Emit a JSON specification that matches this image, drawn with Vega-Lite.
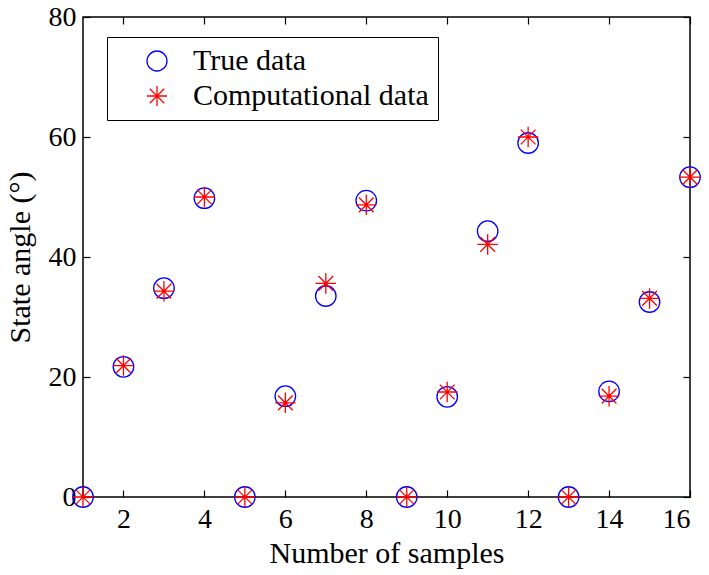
{
  "$schema": "https://vega.github.io/schema/vega-lite/v6.json",
  "autosize": {"type": "none"},
  "padding": {"left": 83, "top": 17, "right": 19, "bottom": 78},
  "width": 607,
  "height": 480,
  "background": "white",
  "config": {
    "view": {"stroke": "black", "strokeWidth": 1.5},
    "font": "Liberation Serif",
    "axis": {"grid": false, "domain": false, "tickColor": "black", "tickSize": -7, "tickWidth": 1.2,
             "labelFont": "Liberation Serif", "labelFontSize": 28, "labelColor": "black",
             "titleFont": "Liberation Serif", "titleFontSize": 30, "titleFontWeight": "normal", "titleColor": "black"}
  },
  "data": {"values": [
    {"n": 1, "series": "True data", "v": 0},
    {"n": 2, "series": "True data", "v": 21.7},
    {"n": 3, "series": "True data", "v": 34.8},
    {"n": 4, "series": "True data", "v": 49.8},
    {"n": 5, "series": "True data", "v": 0},
    {"n": 6, "series": "True data", "v": 16.8},
    {"n": 7, "series": "True data", "v": 33.5},
    {"n": 8, "series": "True data", "v": 49.4},
    {"n": 9, "series": "True data", "v": 0},
    {"n": 10, "series": "True data", "v": 16.7},
    {"n": 11, "series": "True data", "v": 44.3},
    {"n": 12, "series": "True data", "v": 59.0},
    {"n": 13, "series": "True data", "v": 0},
    {"n": 14, "series": "True data", "v": 17.6},
    {"n": 15, "series": "True data", "v": 32.5},
    {"n": 16, "series": "True data", "v": 53.3},
    {"n": 1, "series": "Computational data", "v": 0},
    {"n": 2, "series": "Computational data", "v": 21.9},
    {"n": 3, "series": "Computational data", "v": 34.3},
    {"n": 4, "series": "Computational data", "v": 50.0},
    {"n": 5, "series": "Computational data", "v": 0},
    {"n": 6, "series": "Computational data", "v": 15.7},
    {"n": 7, "series": "Computational data", "v": 35.6},
    {"n": 8, "series": "Computational data", "v": 48.7},
    {"n": 9, "series": "Computational data", "v": 0},
    {"n": 10, "series": "Computational data", "v": 17.5},
    {"n": 11, "series": "Computational data", "v": 42.1},
    {"n": 12, "series": "Computational data", "v": 60.0},
    {"n": 13, "series": "Computational data", "v": 0},
    {"n": 14, "series": "Computational data", "v": 16.8},
    {"n": 15, "series": "Computational data", "v": 33.1},
    {"n": 16, "series": "Computational data", "v": 53.3}
  ]},
  "layer": [
    {
      "mark": {"type": "point", "filled": false, "strokeWidth": 1.3, "opacity": 1, "clip": false},
      "encoding": {
        "x": {"field": "n", "type": "quantitative", "scale": {"domain": [1, 16], "nice": false},
              "axis": {"orient": "bottom", "values": [2, 4, 6, 8, 10, 12, 14, 16], "title": "Number of samples", "labelPadding": 15, "titlePadding": 5}},
        "y": {"field": "v", "type": "quantitative", "scale": {"domain": [0, 80], "nice": false},
              "axis": {"orient": "left", "values": [0, 20, 40, 60, 80], "title": "State angle (°)", "labelPadding": 14, "titlePadding": 13}},
        "color": {"field": "series", "type": "nominal",
                  "scale": {"domain": ["True data", "Computational data"], "range": ["#0000ff", "#ff0000"]},
                  "legend": {"title": null, "orient": "none", "legendX": 24, "legendY": 20,
                             "strokeColor": "black", "fillColor": "white", "padding": 9,
                             "labelFont": "Liberation Serif", "labelFontSize": 30, "labelColor": "black",
                             "symbolSize": 400, "symbolStrokeWidth": 1.3, "symbolOpacity": 1, "symbolOffset": 26, "labelOffset": 21,
                             "rowPadding": 5, "labelLimit": 400,
                             "encode": {"legend": {"update": {"strokeWidth": {"value": 1.5}}}}}},
        "shape": {"field": "series", "type": "nominal",
                  "scale": {"domain": ["True data", "Computational data"], "range": ["circle", "M-1,0L1,0M0,-1L0,1M-0.72,-0.72L0.72,0.72M-0.72,0.72L0.72,-0.72"]}},
        "size": {"value": 420}
      }
    },
    {
      "mark": {"type": "point", "opacity": 0},
      "encoding": {
        "x": {"field": "n", "type": "quantitative", "axis": {"orient": "top", "values": [2, 4, 6, 8, 10, 12, 14, 16], "labels": false, "title": null}},
        "y": {"field": "v", "type": "quantitative", "axis": {"orient": "right", "values": [0, 20, 40, 60, 80], "labels": false, "title": null}}
      }
    }
  ],
  "resolve": {"axis": {"x": "independent", "y": "independent"}}
}
